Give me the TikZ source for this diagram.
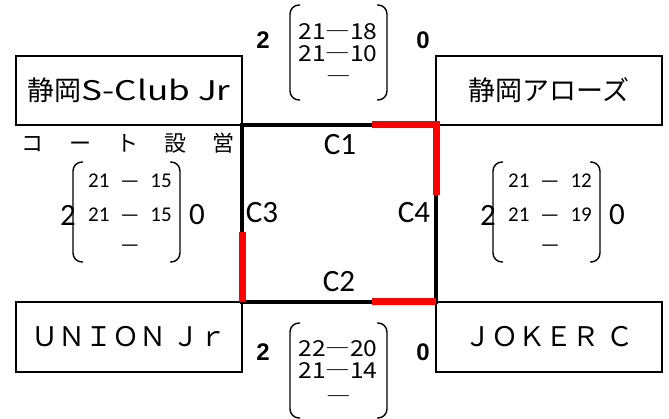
\documentclass[tikz,border=0pt]{standalone}
\usepackage{fontspec}
\setmainfont{Carlito}
\newfontfamily\jp{Noto Sans CJK JP}
\newfontfamily\jpw[FakeStretch=1.12]{Noto Sans CJK JP}
\newfontfamily\jpl[FakeStretch=1.3]{Noto Sans CJK JP}
\newfontfamily\arb{Liberation Sans}
\begin{document}
\begin{tikzpicture}[x=1pt,y=-1pt,
  team/.style={draw, line width=1.4pt, minimum width=226pt, minimum height=69pt, inner sep=0pt, outer sep=0pt, font=\jp\fontsize{27}{30}\selectfont},
  sq/.style={line width=3.2pt},
  hot/.style={red, line width=7pt, line join=miter},
  paren/.style={line width=1.4pt, rounded corners=9pt},
  lbl/.style={inner sep=0pt, font=\fontsize{31}{33}\selectfont},
  bscore/.style={inner sep=0pt, font=\arb\bfseries\fontsize{24}{26}\selectfont},
  cscore/.style={inner sep=0pt, font=\fontsize{31}{33}\selectfont},
  jrow/.style={inner sep=0pt, text height=16pt, text depth=0pt, font=\jpw\fontsize{22}{24}\selectfont},
  crow/.style={inner sep=0pt, font=\fontsize{21}{23}\selectfont},
  court/.style={inner sep=0pt, font=\jp\fontsize{22}{24}\selectfont}]
\useasboundingbox (0,0) rectangle (669,419);
% team boxes
\node[team] (tl) at (129,90.5) {静岡{\jpl S-Club Jr}};
\node[team] (tr) at (549,90.5) {静岡アローズ};
\node[team, minimum height=70pt] (bl) at (129,337) {ＵＮＩＯＮ Ｊｒ};
\node[team, minimum height=70pt] (br) at (549,337) {ＪＯＫＥＲ Ｃ};
% square
\draw[sq] (tl.south east) -- (tr.south west) -- (br.north west) -- (bl.north east) -- cycle;
\coordinate (h1) at (372,125);
\coordinate (h2) at (436,195);
\coordinate (h3) at (242,232);
\coordinate (h4) at (372,302);
\draw[hot] (h1) -- (tr.south west) -- (h2);
\draw[hot] (h3) -- (bl.north east);
\draw[hot] (h4) -- (br.north west);
% court labels
\node[lbl] (c1) at (340,145) {C1};
\node[lbl] (c2) at (339,282) {C2};
\node[lbl] (c3) at (262,213) {C3};
\node[lbl] (c4) at (414,213) {C4};
\node[court] (cs) at (128,143) {コ\hspace{25.8pt}ー\hspace{25.8pt}ト\hspace{25.8pt}設\hspace{25.8pt}営};
% top match
\draw[paren] (300,5) -- (290,5) -- (290,100) -- (300,100);
\draw[paren] (377,5) -- (387,5) -- (387,100) -- (377,100);
\node[jrow] (t1) at (338,32) {21―18};
\node[jrow] (t2) at (338,54) {21―10};
\node[jrow] (t3) at (339,77) {―};
\node[bscore] (ta) at (263,40) {2};
\node[bscore] (tb) at (423,40) {0};
% bottom match
\draw[paren] (300,323) -- (290,323) -- (290,418) -- (300,418);
\draw[paren] (377,323) -- (387,323) -- (387,418) -- (377,418);
\node[jrow] (b1) at (338,348) {22―20};
\node[jrow] (b2) at (338,370) {21―14};
\node[jrow] (b3) at (339,396) {―};
\node[bscore] (ba) at (263,352) {2};
\node[bscore] (bb) at (423,352) {0};
% left match
\draw[paren] (83,162) -- (73,162) -- (73,262) -- (83,262);
\draw[paren] (170,162) -- (180,162) -- (180,262) -- (170,262);
\node[crow] (l1) at (130,181) {21\hspace{11pt}—\hspace{11pt}15};
\node[crow] (l2) at (130,215) {21\hspace{11pt}—\hspace{11pt}15};
\node[crow] (l3) at (130,248) {—};
\node[cscore] (la) at (68,215) {2};
\node[cscore] (lb) at (197,215) {0};
% right match
\draw[paren] (503,162) -- (493,162) -- (493,262) -- (503,262);
\draw[paren] (590,162) -- (600,162) -- (600,262) -- (590,262);
\node[crow] (r1) at (550,181) {21\hspace{11pt}—\hspace{11pt}12};
\node[crow] (r2) at (550,215) {21\hspace{11pt}—\hspace{11pt}19};
\node[crow] (r3) at (550,248) {—};
\node[cscore] (ra) at (488,215) {2};
\node[cscore] (rb) at (617,215) {0};
\end{tikzpicture}
\end{document}
